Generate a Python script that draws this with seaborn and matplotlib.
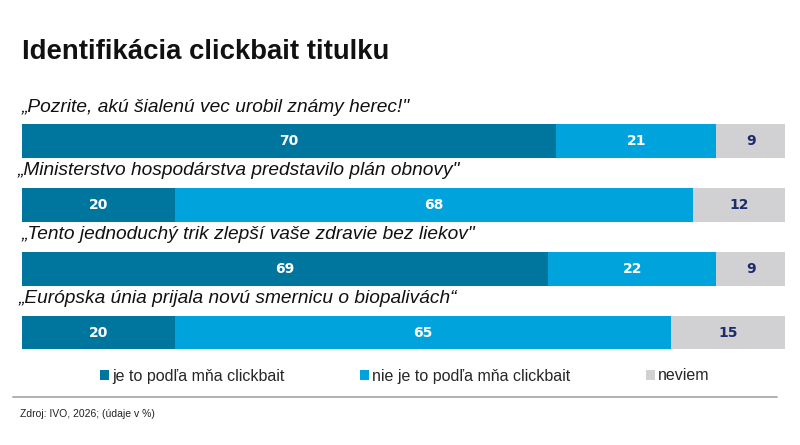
import matplotlib
matplotlib.use("Agg")
import matplotlib.pyplot as plt
from matplotlib.patches import Patch
import seaborn as sns
import pandas as pd
import numpy as np

title = "Identifikácia clickbait titulku"
headlines = [
    "„Pozrite, akú šialenú vec urobil známy herec!\"",
    "„Ministerstvo hospodárstva predstavilo plán obnovy\"",
    "„Tento jednoduchý trik zlepší vaše zdravie bez liekov\"",
    "„Európska únia prijala novú smernicu o biopalivách“",
]
categories = ["je to podľa mňa clickbait", "nie je to podľa mňa clickbait", "neviem"]
je_clickbait = [70, 20, 69, 20]
nie_clickbait = [21, 68, 22, 65]
neviem = [9, 12, 9, 15]
source = "Zdroj: IVO, 2026; (údaje v %)"

colors = {"je to podľa mňa clickbait": "#00769F",
          "nie je to podľa mňa clickbait": "#00A3DB",
          "neviem": "#D1D0D2"}
label_colors = {"je to podľa mňa clickbait": "white",
                "nie je to podľa mňa clickbait": "white",
                "neviem": "#1C2C6B"}

sns.set_theme(style="white")
plt.rcParams['font.family'] = ['Liberation Sans', 'DejaVu Sans']

series = [je_clickbait, nie_clickbait, neviem]
rows = []
for i, h in enumerate(headlines):
    cum = 0
    for cat, vals in zip(categories, series):
        start = cum
        cum += vals[i]
        rows.append({"headline": h, "kategoria": cat, "value": vals[i],
                     "start": start, "end": cum})
df = pd.DataFrame(rows)

fig = plt.figure(figsize=(8, 4.45), dpi=100)
ax = fig.add_axes([22 / 800, 1 - 364.5 / 445, 763 / 800, 255.5 / 445])

draw_order = categories[::-1]
sns.barplot(data=df, x="end", y="headline", hue="kategoria",
            hue_order=draw_order, order=headlines, dodge=False,
            palette=colors, orient="h", width=0.53, ax=ax,
            saturation=1, legend=False, linewidth=0)

ax.set_xlim(0, 100)
ax.set_ylim(3.5, -0.5)
ax.set_xlabel("")
ax.set_ylabel("")
ax.set_xticks([])
ax.set_yticks([])
for s in ax.spines.values():
    s.set_visible(False)

for _, r in df.iterrows():
    i = headlines.index(r["headline"])
    ax.text((r["start"] + r["end"]) / 2, i, f"{r['value']}",
            ha="center", va="center", fontsize=10, fontweight="bold",
            color=label_colors[r["kategoria"]], family=["DejaVu Sans"])

label_x = [0, -0.6, 0, -0.5]
for i, h in enumerate(headlines):
    ax.text(label_x[i], i - 0.53, h, ha="left", va="center", fontsize=13.8,
            style="italic", color="#111111", clip_on=False)

fig.text(22 / 800, 1 - 52 / 445, title, ha="left", va="center",
         fontsize=19.8, fontweight="bold", color="#111111")

handles = [Patch(facecolor=colors[c], edgecolor="none", label=c) for c in categories]
fig.legend(handles=handles, loc="center", bbox_to_anchor=(0.506, 1 - 376 / 445),
           ncol=3, frameon=False, fontsize=11.5, handlelength=0.55,
           handleheight=0.6, handletextpad=0.2, columnspacing=4.75)

fig.add_artist(plt.Line2D([13 / 800, 777 / 800], [1 - 397 / 445, 1 - 397 / 445],
                          color="#AAAAAA", lw=1.3, transform=fig.transFigure))
fig.text(20 / 800, 1 - 414 / 445, source, ha="left", va="center",
         fontsize=7.5, color="#222222")

fig.savefig("out.png", dpi=100, facecolor="white")
